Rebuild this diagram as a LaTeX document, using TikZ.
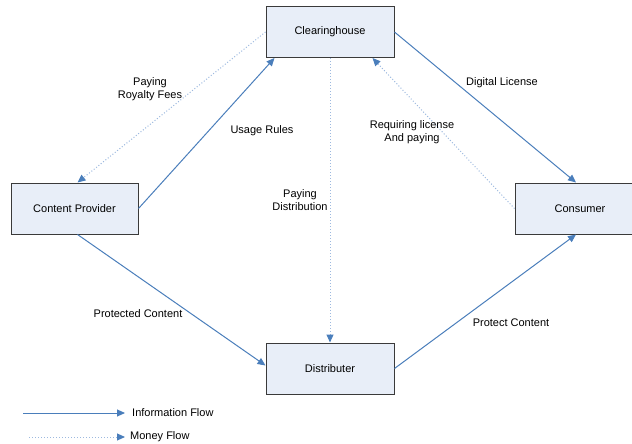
\documentclass[tikz,border=0pt]{standalone}
\usepackage{fontspec}
\setmainfont{Liberation Sans}
\usetikzlibrary{arrows.meta}
\definecolor{infoblue}{HTML}{4A7EBB}
\definecolor{moneyblue}{HTML}{9DB9DF}
\definecolor{boxfill}{HTML}{E8EEF8}
\definecolor{boxline}{HTML}{3A3A3A}
\begin{document}
\begin{tikzpicture}[x=1pt,y=-1pt,
  every node/.style={font=\fontsize{11}{13}\selectfont, inner sep=0pt},
  entity/.style={draw=boxline, line width=1pt, fill=boxfill, minimum width=128pt, minimum height=51pt},
  info/.style={draw=infoblue, line width=1pt, -{Triangle[length=8pt,width=7pt,color=infoblue]}},
  money/.style={draw=moneyblue, line width=1pt, dotted, -{Triangle[length=8pt,width=7pt,color=infoblue]}},
  lbl/.style={align=center}]
\useasboundingbox (0,0) rectangle (632,444);
\clip (0,0) rectangle (632,444);
\node[entity] (ch) at (330,32) {Clearinghouse};
\node[entity, minimum width=127pt] (cp) at (74.5,208.5) {Content Provider};
\node[entity, minimum width=130pt] (cons) at (580,208.5) {Consumer};
\node[entity] (dist) at (330,368.5) {Distributer};
% connectors
\draw[info] (cp.east) -- ([xshift=9pt]ch.south west);
\draw[money] (ch.west) -- ([xshift=3pt]cp.north);
\draw[info] (ch.east) -- ([xshift=-4pt]cons.north);
\draw[money] (cons.west) -- ([xshift=-22pt]ch.south east);
\draw[money] (ch.south) -- (dist.north);
\draw[info] ([xshift=3pt]cp.south) -- ([yshift=3pt]dist.west);
\draw[info] (dist.east) -- ([xshift=-4pt]cons.south);
% labels
\node[lbl] (l1) at (150,89) {Paying\\Royalty Fees};
\node[lbl] (l2) at (262,131) {Usage Rules};
\node[lbl] (l3) at (502,83) {Digital License};
\node[lbl] (l4) at (412,132) {Requiring license\\And paying};
\node[lbl] (l5) at (300,200) {Paying\\Distribution};
\node[lbl] (l6) at (138,314) {Protected Content};
\node[lbl] (l7) at (511,323) {Protect Content};
% legend
\coordinate (a1) at (23,413);
\coordinate (a2) at (125,413);
\coordinate (b1) at (29,437);
\coordinate (b2) at (125,437);
\draw[info] (a1) -- (a2);
\draw[money] (b1) -- (b2);
\node[anchor=west] (t1) at (132,413) {Information Flow};
\node[anchor=west] (t2) at (130,437) {Money Flow};
\end{tikzpicture}
\end{document}
